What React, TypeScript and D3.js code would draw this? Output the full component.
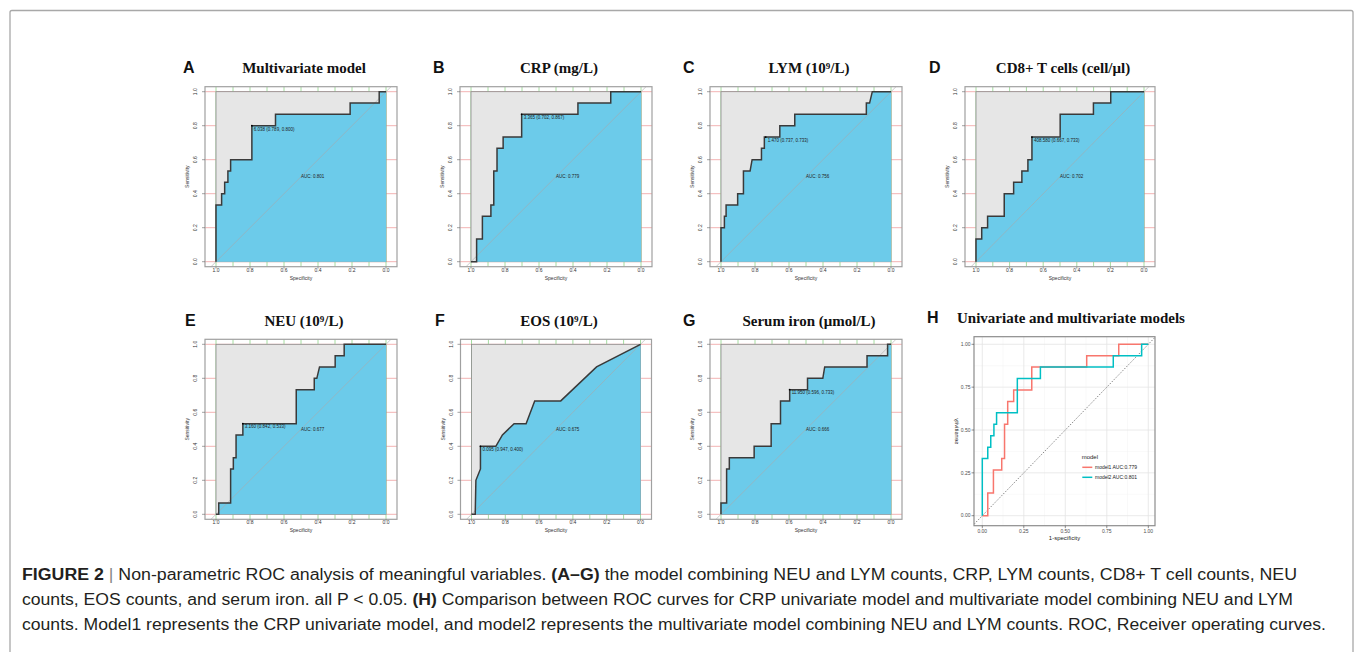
import React from "react";
import * as d3 from "d3";

type Pt = [number, number];

// ROC curve vertices, as [specificity, sensitivity]
const rocMulti: Pt[] = [[1, 0], [1, 0.333], [0.967, 0.333], [0.967, 0.4], [0.949, 0.4], [0.949, 0.467], [0.93, 0.467], [0.93, 0.533], [0.914, 0.533], [0.914, 0.6], [0.789, 0.6], [0.789, 0.8], [0.65, 0.8], [0.65, 0.867], [0.211, 0.867], [0.211, 0.933], [0.04, 0.933], [0.04, 1], [0, 1]];
const rocCrp: Pt[] = [[1, 0], [0.967, 0], [0.967, 0.133], [0.933, 0.133], [0.933, 0.267], [0.883, 0.267], [0.883, 0.333], [0.866, 0.333], [0.866, 0.533], [0.847, 0.533], [0.847, 0.667], [0.811, 0.667], [0.811, 0.733], [0.702, 0.733], [0.702, 0.867], [0.371, 0.867], [0.371, 0.933], [0.178, 0.933], [0.178, 1], [0, 1]];
const rocLym: Pt[] = [[1, 0], [1, 0.2], [0.98, 0.2], [0.98, 0.267], [0.97, 0.267], [0.97, 0.333], [0.902, 0.333], [0.902, 0.4], [0.868, 0.4], [0.868, 0.533], [0.829, 0.533], [0.817, 0.6], [0.762, 0.6], [0.762, 0.667], [0.745, 0.667], [0.745, 0.733], [0.654, 0.733], [0.654, 0.8], [0.566, 0.8], [0.566, 0.867], [0.145, 0.867], [0.145, 0.933], [0.126, 0.933], [0.11, 1], [0, 1]];
const rocCd8: Pt[] = [[1, 0], [1, 0.133], [0.966, 0.133], [0.966, 0.2], [0.931, 0.2], [0.931, 0.267], [0.832, 0.267], [0.832, 0.4], [0.776, 0.4], [0.776, 0.467], [0.727, 0.467], [0.727, 0.533], [0.691, 0.533], [0.691, 0.6], [0.667, 0.6], [0.667, 0.733], [0.499, 0.733], [0.499, 0.867], [0.301, 0.867], [0.301, 0.933], [0.198, 0.933], [0.198, 1], [0, 1]];
const rocNeu: Pt[] = [[1, 0], [0.984, 0], [0.984, 0.067], [0.914, 0.067], [0.914, 0.267], [0.898, 0.267], [0.898, 0.333], [0.882, 0.333], [0.882, 0.467], [0.842, 0.467], [0.842, 0.533], [0.528, 0.533], [0.528, 0.733], [0.422, 0.733], [0.422, 0.8], [0.407, 0.8], [0.391, 0.867], [0.299, 0.867], [0.299, 0.933], [0.246, 0.933], [0.246, 1], [0, 1]];
const rocEos: Pt[] = [[1, 0], [0.978, 0], [0.974, 0.2], [0.947, 0.267], [0.947, 0.4], [0.856, 0.4], [0.817, 0.467], [0.748, 0.533], [0.677, 0.533], [0.626, 0.667], [0.472, 0.667], [0.26, 0.867], [0, 1]];
const rocIron: Pt[] = [[1, 0], [1, 0.067], [0.967, 0.067], [0.967, 0.267], [0.951, 0.267], [0.951, 0.333], [0.805, 0.333], [0.805, 0.4], [0.705, 0.4], [0.705, 0.533], [0.65, 0.533], [0.65, 0.667], [0.596, 0.667], [0.596, 0.733], [0.491, 0.733], [0.491, 0.8], [0.401, 0.8], [0.39, 0.867], [0.141, 0.867], [0.141, 0.933], [0.02, 0.933], [0.02, 1], [0, 1]];

const letters = ["A", "B", "C", "D", "E", "F", "G"];
const titles = ["Multivariate model", "CRP (mg/L)", "LYM (10⁹/L)", "CD8+ T cells (cell/μl)", "NEU (10⁹/L)", "EOS (10⁹/L)", "Serum iron (μmol/L)"];
const aucs = [0.801, 0.779, 0.756, 0.702, 0.677, 0.675, 0.666];
const cutoffs = ["6.038", "3.365", "1.470", "408.580", "3.160", "0.095", "11.950"];
const cutSpec = [0.789, 0.702, 0.737, 0.667, 0.842, 0.947, 0.596];
const cutSens = [0.8, 0.867, 0.733, 0.733, 0.533, 0.4, 0.733];
const curves = [rocMulti, rocCrp, rocLym, rocCd8, rocNeu, rocEos, rocIron];

const yTicks = [0, 0.2, 0.4, 0.6, 0.8, 1];
const xGrid = d3.range(0, 1.0001, 0.1);

const hTicks = [0, 0.25, 0.5, 0.75, 1];
const hMinor = [0.125, 0.375, 0.625, 0.875];
const modelNames = ["model1 AUC:0.779", "model2 AUC:0.801"];
const modelColors = ["#F8766D", "#00BFC4"];

const SANS = "'Liberation Sans', Arial, sans-serif";
const SERIF = "'Liberation Serif', 'Times New Roman', serif";

// layout of the seven pROC panels
const colX = [216, 471, 721, 976, 216, 471.5, 721];
const rowY = [91.7, 91.7, 91.7, 91.7, 344.3, 344.3, 344.3];
const widths = [170, 170, 170, 168, 170, 169, 170];
const letterX = [183, 433, 683, 929, 185, 435, 683];

function RocPanel({ i }: { i: number }) {
  const w = widths[i];
  const h = 170;
  const x = d3.scaleLinear().domain([1, 0]).range([colX[i], colX[i] + w]);
  const y = d3.scaleLinear().domain([0, 1]).range([rowY[i] + h, rowY[i]]);
  const mx = 11;
  const bl = x(1) - mx, br = x(0) + mx, bt = y(1) - 5, bb = y(0) + 5;
  const line = d3.line<Pt>().x((d) => x(d[0])).y((d) => y(d[1]));
  const pts = curves[i];
  const area = line([...pts, [0, 0]]) + "Z";
  const clip = `clip${i}`;
  const base = rowY[i] - 18.5;
  const cx = (x(1) + x(0)) / 2 + 3;
  return (
    <g>
      <defs>
        <clipPath id={clip}>
          <rect x={bl} y={bt} width={br - bl} height={bb - bt} />
        </clipPath>
      </defs>
      <text x={letterX[i]} y={base} fontFamily={SANS} fontWeight="bold" fontSize={16} fill="#111">{letters[i]}</text>
      <text x={cx} y={base} fontFamily={SERIF} fontWeight="bold" fontSize={15} textAnchor="middle" fill="#111">{titles[i]}</text>
      <g clipPath={`url(#${clip})`}>
        {yTicks.map((t) => (
          <line key={"h" + t} x1={bl} x2={br} y1={y(t)} y2={y(t)} stroke="#f3b3b3" strokeWidth={1} />
        ))}
        {xGrid.map((t) => (
          <line key={"v" + t} x1={x(t)} x2={x(t)} y1={bt} y2={bb} stroke="#a6dca0" strokeWidth={1} />
        ))}
        <rect x={x(1)} y={y(1)} width={x(0) - x(1)} height={y(0) - y(1)} fill="#e6e6e6" stroke="#8a8a8a" strokeWidth={0.8} />
        <path d={area} fill="#6ccbea" stroke="none" />
        <line x1={x(1.1)} y1={y(-0.1)} x2={x(-0.1)} y2={y(1.1)} stroke="#a9a9a9" strokeWidth={0.6} />
        <path d={line(pts) ?? ""} fill="none" stroke="#3a3a3a" strokeWidth={1.5} strokeLinejoin="miter" />
      </g>
      <rect x={bl} y={bt} width={br - bl} height={bb - bt} fill="none" stroke="#a0a0a0" strokeWidth={1.2} />
      <circle cx={x(cutSpec[i])} cy={y(cutSens[i])} r={0.9} fill="#000" />
      <text x={x(cutSpec[i]) + 2} y={y(cutSens[i]) + 4.8} fontFamily={SANS} fontSize={4.5} fill="#222">
        {`${cutoffs[i]} (${cutSpec[i].toFixed(3)}, ${cutSens[i].toFixed(3)})`}
      </text>
      <text x={x(0.5)} y={y(0.5) + 1.5} fontFamily={SANS} fontSize={4.5} fill="#222">{`AUC: ${aucs[i].toFixed(3)}`}</text>
      {yTicks.map((t) => (
        <g key={"yt" + t}>
          <line x1={bl - 3} x2={bl} y1={y(t)} y2={y(t)} stroke="#666" strokeWidth={0.6} />
          <text transform={`translate(${x(1) - 19},${y(t)}) rotate(-90)`} textAnchor="middle" fontFamily={SANS} fontSize={5} fill="#333">{t.toFixed(1)}</text>
        </g>
      ))}
      {yTicks.map((t) => (
        <g key={"xt" + t}>
          <line x1={x(t)} x2={x(t)} y1={bb} y2={bb + 2} stroke="#666" strokeWidth={0.6} />
          <text x={x(t)} y={y(0) + 10} textAnchor="middle" fontFamily={SANS} fontSize={5} fill="#333">{t.toFixed(1)}</text>
        </g>
      ))}
      <text transform={`translate(${x(1) - 27},${y(0.5)}) rotate(-90)`} textAnchor="middle" fontFamily={SANS} fontSize={5} fill="#333">Sensitivity</text>
      <text x={(x(1) + x(0)) / 2} y={y(0) + 18} textAnchor="middle" fontFamily={SANS} fontSize={5} fill="#333">Specificity</text>
    </g>
  );
}

function ComparePanel() {
  const x = d3.scaleLinear().domain([0, 1]).range([982.3, 1148.3]);
  const y = d3.scaleLinear().domain([0, 1]).range([515.7, 344.3]);
  const pl = 974, pr = 1155, pt = 336.7, pb = 525.7;
  const line = d3.line<Pt>().x((d) => x(1 - d[0])).y((d) => y(d[1]));
  const models = [rocCrp, rocMulti];
  return (
    <g>
      <defs>
        <clipPath id="clipH">
          <rect x={pl} y={pt} width={pr - pl} height={pb - pt} />
        </clipPath>
      </defs>
      <text x={927} y={323} fontFamily={SANS} fontWeight="bold" fontSize={16} fill="#111">H</text>
      <text x={957} y={323} fontFamily={SERIF} fontWeight="bold" fontSize={15} fill="#111">Univariate and multivariate models</text>
      <rect x={pl} y={pt} width={pr - pl} height={pb - pt} fill="#fff" />
      {hMinor.map((t) => (
        <g key={"m" + t}>
          <line x1={x(t)} x2={x(t)} y1={pt} y2={pb} stroke="#f2f2f2" strokeWidth={0.5} />
          <line x1={pl} x2={pr} y1={y(t)} y2={y(t)} stroke="#f2f2f2" strokeWidth={0.5} />
        </g>
      ))}
      {hTicks.map((t) => (
        <g key={"g" + t}>
          <line x1={x(t)} x2={x(t)} y1={pt} y2={pb} stroke="#e4e4e4" strokeWidth={0.8} />
          <line x1={pl} x2={pr} y1={y(t)} y2={y(t)} stroke="#e4e4e4" strokeWidth={0.8} />
        </g>
      ))}
      <g clipPath="url(#clipH)">
        <line x1={x(-0.1)} y1={y(-0.1)} x2={x(1.1)} y2={y(1.1)} stroke="#555" strokeWidth={0.7} strokeDasharray="1.5,1.5" />
        {models.map((m, k) => (
          <path key={k} d={line(m) ?? ""} fill="none" stroke={modelColors[k]} strokeWidth={1.5} />
        ))}
      </g>
      <rect x={pl} y={pt} width={pr - pl} height={pb - pt} fill="none" stroke="#8c8c8c" strokeWidth={1.2} />
      {hTicks.map((t) => (
        <g key={"t" + t}>
          <line x1={pl - 2.5} x2={pl} y1={y(t)} y2={y(t)} stroke="#444" strokeWidth={0.6} />
          <text x={pl - 3.5} y={y(t) + 1.7} textAnchor="end" fontFamily={SANS} fontSize={5} fill="#4d4d4d">{t.toFixed(2)}</text>
          <line x1={x(t)} x2={x(t)} y1={pb} y2={pb + 2.5} stroke="#444" strokeWidth={0.6} />
          <text x={x(t)} y={pb + 7.5} textAnchor="middle" fontFamily={SANS} fontSize={5} fill="#4d4d4d">{t.toFixed(2)}</text>
        </g>
      ))}
      <text x={(pl + pr) / 2} y={pb + 14.5} textAnchor="middle" fontFamily={SANS} fontSize={6} fill="#222">1-specificity</text>
      <text transform={`translate(955,${(pt + pb) / 2}) rotate(90) scale(-1,1)`} textAnchor="middle" fontFamily={SANS} fontSize={6} fill="#222">sensitivity</text>
      <text x={1081.7} y={458.5} fontFamily={SANS} fontSize={6} fill="#222">model</text>
      {modelNames.map((n, k) => (
        <g key={n}>
          <line x1={1082.3} x2={1092.3} y1={467.3 + k * 10} y2={467.3 + k * 10} stroke={modelColors[k]} strokeWidth={1.5} />
          <text x={1095} y={469.1 + k * 10} fontFamily={SANS} fontSize={5} fill="#222">{n}</text>
        </g>
      ))}
    </g>
  );
}

function Caption() {
  const fs = 16;
  const col = "#231f20";
  return (
    <g fontFamily={SANS} fontSize={fs} fill={col}>
      <text x={22} y={580} textLength={1275} lengthAdjust="spacingAndGlyphs">
        <tspan fontWeight="bold">FIGURE 2</tspan>
        <tspan fill="#888"> | </tspan>
        <tspan>Non-parametric ROC analysis of meaningful variables. </tspan>
        <tspan fontWeight="bold">(A–G)</tspan>
        <tspan> the model combining NEU and LYM counts, CRP, LYM counts, CD8+ T cell counts, NEU</tspan>
      </text>
      <text x={22} y={605} textLength={1271} lengthAdjust="spacingAndGlyphs">
        <tspan>counts, EOS counts, and serum iron. all P &lt; 0.05. </tspan>
        <tspan fontWeight="bold">(H)</tspan>
        <tspan> Comparison between ROC curves for CRP univariate model and multivariate model combining NEU and LYM</tspan>
      </text>
      <text x={22} y={630} textLength={1304} lengthAdjust="spacingAndGlyphs">
        counts. Model1 represents the CRP univariate model, and model2 represents the multivariate model combining NEU and LYM counts. ROC, Receiver operating curves.
      </text>
    </g>
  );
}

export default function App() {
  return (
    <svg width={1355} height={652} style={{ position: "absolute", left: 0, top: 0, background: "#fff" }}>
      <rect x={0} y={0} width={1355} height={652} fill="#fff" />
      <rect x={10} y={10.5} width={1343} height={660} fill="none" stroke="#a8a8a8" strokeWidth={1.3} rx={2} />
      {curves.map((_, i) => (
        <RocPanel key={i} i={i} />
      ))}
      <ComparePanel />
      <Caption />
    </svg>
  );
}
